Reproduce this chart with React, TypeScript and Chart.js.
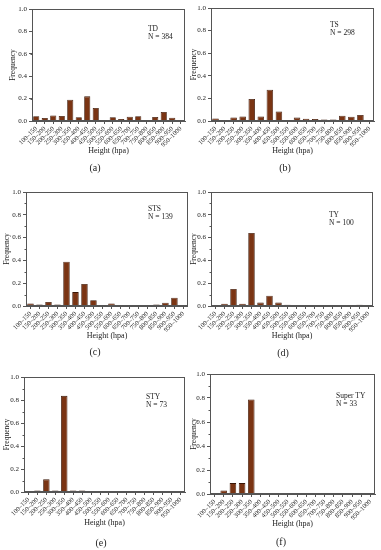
import React, { useEffect, useRef } from "react";
import { Chart, registerables } from "chart.js";

Chart.register(...registerables);

// ---------- data ----------
const categories = [
  "100–150", "150–200", "200–250", "250–300", "300–350", "350–400",
  "400–450", "450–500", "500–550", "550–600", "600–650", "650–700",
  "700–750", "750–800", "800–850", "850–900", "900–950", "950–1000",
];

const tdValues = [0.042, 0.027, 0.05, 0.045, 0.19, 0.033, 0.22, 0.116, 0.006, 0.033, 0.018, 0.039, 0.042, 0.006, 0.036, 0.08, 0.03, 0.006];
const tsValues = [0.023, 0.006, 0.032, 0.04, 0.195, 0.04, 0.277, 0.085, 0, 0.03, 0.02, 0.017, 0.013, 0.013, 0.047, 0.037, 0.053, 0.006];
const stsValues = [0.022, 0.014, 0.036, 0.014, 0.388, 0.122, 0.194, 0.05, 0, 0.022, 0.007, 0, 0.007, 0, 0.014, 0.029, 0.072, 0.007];
const tyValues = [0, 0.02, 0.15, 0.02, 0.64, 0.03, 0.09, 0.03, 0.01, 0, 0, 0, 0, 0, 0, 0, 0.01, 0];
const styValues = [0, 0.014, 0.11, 0.014, 0.836, 0.014, 0.014, 0, 0, 0, 0, 0, 0, 0, 0, 0, 0, 0];
const superTyValues = [0, 0.03, 0.091, 0.091, 0.788, 0, 0, 0, 0, 0, 0, 0, 0, 0, 0, 0, 0, 0];

const seriesValues = [tdValues, tsValues, stsValues, tyValues, styValues, superTyValues];
const seriesNames = ["TD", "TS", "STS", "TY", "STY", "Super TY"];
const seriesCounts = [384, 298, 139, 100, 73, 33];
const panelCaptions = ["(a)", "(b)", "(c)", "(d)", "(e)", "(f)"];
const yTickMin = 0;
const yTickMax = 1;
const yTickStep = 0.1;

// ---------- layout (page / canvas-local pixels) ----------
type Layout = {
  x: number; y: number; w: number; h: number;
  left: number; top: number; right: number; bottom: number;
  xTitleY: number; yTitleX: number;
  capX: number; capY: number;
  labX: number; labY: number;
};

const layouts: Layout[] = [
  { x: 0, y: 0, w: 190, h: 175, left: 32, top: 9, right: 185, bottom: 121, xTitleY: 151, yTitleX: 13, capX: 95, capY: 168, labX: 148, labY: 29 },
  { x: 190, y: 0, w: 191, h: 175, left: 21, top: 8, right: 184, bottom: 121, xTitleY: 151, yTitleX: 3, capX: 95, capY: 168, labX: 140, labY: 25 },
  { x: 0, y: 175, w: 190, h: 185, left: 26, top: 17, right: 188, bottom: 131, xTitleY: 161, yTitleX: 7, capX: 95, capY: 177, labX: 148, labY: 34 },
  { x: 190, y: 175, w: 191, h: 185, left: 21, top: 17, right: 183, bottom: 131, xTitleY: 161, yTitleX: 3, capX: 93, capY: 178, labX: 139, labY: 40 },
  { x: 0, y: 360, w: 190, h: 190, left: 24, top: 17, right: 185, bottom: 132, xTitleY: 163, yTitleX: 7, capX: 101, capY: 183, labX: 146, labY: 37 },
  { x: 190, y: 360, w: 191, h: 190, left: 20, top: 14, right: 185, bottom: 134, xTitleY: 164, yTitleX: 2, capX: 91, capY: 182, labX: 146, labY: 36 },
];

const FONT = '"Liberation Serif", "Times New Roman", serif';
const AXIS_COLOR = "#555";
const TEXT_COLOR = "#222";
const BAR_COLOR = "#7a3413";
const BAR_BORDER = "#3a1606";

function Panel({ idx }: { idx: number }) {
  const ref = useRef<HTMLCanvasElement | null>(null);
  const L = layouts[idx];

  useEffect(() => {
    if (!ref.current) return;
    const xTitleSize = 8;
    const xTitleLH = xTitleSize * 1.2;
    const axisBottom = L.xTitleY + xTitleLH / 2;
    const yTitleSize = 7.5;
    const yTitleLH = yTitleSize * 1.2;

    const panelPlugin = {
      id: "panelDeco" + idx,
      afterDraw(chart: any) {
        const { ctx, chartArea } = chart;
        ctx.save();
        ctx.strokeStyle = AXIS_COLOR;
        ctx.lineWidth = 1;
        const l = Math.round(chartArea.left) + 0.5;
        const t = Math.round(chartArea.top) + 0.5;
        const r = Math.round(chartArea.right) - 0.5;
        const b = Math.round(chartArea.bottom) - 0.5;
        ctx.strokeRect(l, t, r - l, b - t);
        // minor y ticks (shorter)
        const ys = chart.scales.y;
        ctx.beginPath();
        ys.ticks.forEach((tk: any, i: number) => {
          if (i % 2 === 1) {
            const py = Math.round(ys.getPixelForValue(tk.value)) + 0.5;
            ctx.moveTo(l - 2, py);
            ctx.lineTo(l, py);
          }
        });
        ctx.stroke();
        ctx.fillStyle = TEXT_COLOR;
        ctx.font = `7.5px ${FONT}`;
        ctx.textAlign = "left";
        ctx.textBaseline = "middle";
        ctx.fillText(seriesNames[idx], L.labX, L.labY);
        ctx.fillText(`N = ${seriesCounts[idx]}`, L.labX, L.labY + 8);
        ctx.font = `10px ${FONT}`;
        ctx.textAlign = "center";
        ctx.fillText(panelCaptions[idx], L.capX, L.capY);
        ctx.restore();
      },
    };

    const chart = new Chart(ref.current, {
      type: "bar",
      data: {
        labels: categories,
        datasets: [
          {
            data: seriesValues[idx],
            backgroundColor: BAR_COLOR,
            borderColor: BAR_BORDER,
            borderWidth: (c: any) => (c.raw > 0 ? 0.8 : 0),
            barPercentage: 0.72,
            categoryPercentage: 1,
          },
        ],
      },
      options: {
        responsive: false,
        animation: false,
        devicePixelRatio: 1,
        layout: {
          padding: { left: 0, top: L.top, right: L.w - L.right, bottom: L.h - axisBottom },
        },
        plugins: {
          legend: { display: false },
          tooltip: { enabled: false },
        },
        scales: {
          x: {
            grid: {
              display: true,
              drawOnChartArea: false,
              drawTicks: true,
              tickLength: 3,
              offset: false,
              color: AXIS_COLOR,
            },
            border: { display: true, color: AXIS_COLOR },
            ticks: {
              autoSkip: false,
              minRotation: 45,
              maxRotation: 45,
              padding: 1,
              color: TEXT_COLOR,
              font: { family: FONT, size: 6.5 },
            },
            title: {
              display: true,
              text: "Height (hpa)",
              color: TEXT_COLOR,
              padding: 0,
              font: { family: FONT, size: xTitleSize },
            },
            afterFit: (s: any) => {
              s.height = axisBottom - L.bottom;
            },
          },
          y: {
            min: yTickMin,
            max: yTickMax,
            grid: {
              display: true,
              drawOnChartArea: false,
              drawTicks: true,
              tickLength: 3,
              color: AXIS_COLOR,
              tickColor: (c: any) => (c.index % 2 === 0 ? AXIS_COLOR : "rgba(0,0,0,0)"),
            },
            border: { display: true, color: AXIS_COLOR },
            ticks: {
              stepSize: yTickStep,
              padding: 2,
              color: TEXT_COLOR,
              font: { family: FONT, size: 7 },
              callback: (v: any, i: number) => (i % 2 === 0 ? Number(v).toFixed(1) : ""),
            },
            title: {
              display: true,
              text: "Frequency",
              color: TEXT_COLOR,
              padding: { top: Math.max(0, L.yTitleX - yTitleLH / 2), bottom: 0 },
              font: { family: FONT, size: yTitleSize },
            },
            afterFit: (s: any) => {
              s.width = L.left;
            },
          },
        },
      },
      plugins: [panelPlugin],
    } as any);
    return () => chart.destroy();
  }, [idx]);

  return (
    <canvas
      ref={ref}
      width={L.w}
      height={L.h}
      style={{ position: "absolute", left: L.x, top: L.y, width: L.w, height: L.h }}
    />
  );
}

export default function App() {
  return (
    <div style={{ position: "absolute", left: 0, top: 0, width: 381, height: 550, background: "#fff" }}>
      {layouts.map((_, i) => (
        <Panel key={i} idx={i} />
      ))}
    </div>
  );
}
